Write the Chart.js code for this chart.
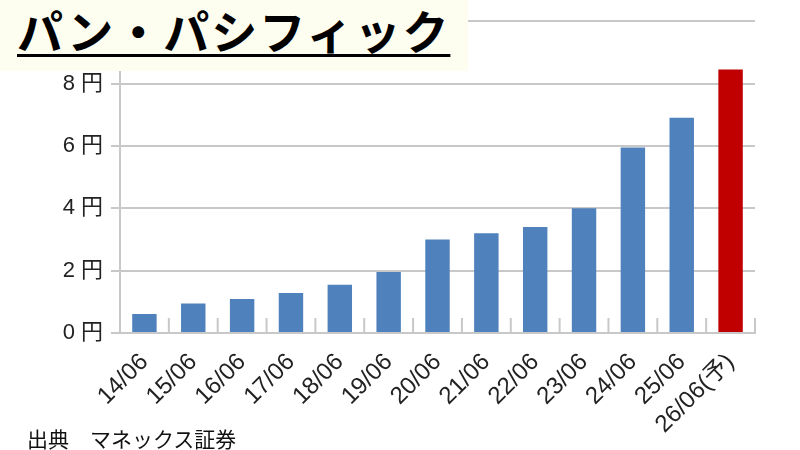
<!DOCTYPE html>
<html lang="ja">
<head>
<meta charset="utf-8">
<script src="https://cdn.jsdelivr.net/npm/chart.js@4"></script>
<style>
  html, body { margin: 0; padding: 0; background: #fff; }
  .wrap { position: relative; width: 800px; height: 450px; font-family: "Noto Sans CJK JP", sans-serif; }
  #chart { position: absolute; left: 0; top: 0; }
  .title-box {
    position: absolute; left: 0; top: 0; width: 468px; height: 71px;
    background: #fdfdf0; z-index: 2;
  }
  .title-box span {
    position: absolute; left: 17px; top: -4px;
    font-size: 46px; font-weight: bold; color: #000;
    text-decoration: underline; text-decoration-thickness: 3px; text-underline-offset: 5px;
    letter-spacing: 2px;
  }
  .source { position: absolute; left: 27px; top: 426px; font-size: 21px; line-height: 1.2; color: #111; z-index: 2; }
</style>
</head>
<body>
<div class="wrap">
  <canvas id="chart" width="800" height="450"></canvas>
  <div class="title-box"><span>パン・パシフィック</span></div>
  <div class="source">出典　マネックス証券</div>
</div>
<script>
const categories = ['14/06', '15/06', '16/06', '17/06', '18/06', '19/06', '20/06',
                    '21/06', '22/06', '23/06', '24/06', '25/06', '26/06(予)'];
const dividends = [0.61, 0.95, 1.09, 1.28, 1.55, 1.96, 3.0, 3.2, 3.4, 4.0, 5.95, 6.9, 8.45];
const yTicks = [0, 2, 4, 6, 8, 10];

const BLUE = '#4f81bd';
const RED = '#c00000';
const GRID = '#c8c8c8';
const FONT = '"Liberation Sans", "Noto Sans CJK JP", sans-serif';

// short upward tick marks between the bars, like the original
const innerTicks = {
  id: 'innerTicks',
  afterDatasetsDraw(chart) {
    const x = chart.scales.x;
    const ctx = chart.ctx;
    const bottom = chart.chartArea.bottom;
    ctx.save();
    ctx.strokeStyle = GRID;
    ctx.lineWidth = 2;
    for (let i = 0; i < categories.length; i++) {
      const px = x.getPixelForValue(i + 0.5);
      ctx.beginPath();
      ctx.moveTo(px, bottom);
      ctx.lineTo(px, bottom - 15);
      ctx.stroke();
    }
    ctx.restore();
  }
};

new Chart(document.getElementById('chart'), {
  type: 'bar',
  data: {
    labels: categories,
    datasets: [{
      data: dividends,
      backgroundColor: c => c.dataIndex === categories.length - 1 ? RED : BLUE,
      borderWidth: 0,
      categoryPercentage: 1,
      barPercentage: 0.5,
    }]
  },
  options: {
    responsive: false,
    animation: false,
    layout: { padding: { left: 0, right: 45, top: 20, bottom: 0 } },
    plugins: { legend: { display: false }, tooltip: { enabled: false } },
    scales: {
      x: {
        offset: true,
        grid: { display: false },
        border: { color: GRID, width: 2 },
        ticks: {
          color: '#222',
          font: { family: FONT, size: 24 },
          minRotation: 45, maxRotation: 45, autoSkip: false, padding: 7,
        },
        afterFit: s => { s.height = 117; }
      },
      y: {
        min: 0, max: 10,
        afterBuildTicks: s => { s.ticks = yTicks.map(v => ({ value: v })); },
        grid: { color: GRID, lineWidth: 2, tickLength: 9 },
        border: { color: GRID, width: 2 },
        ticks: {
          color: '#222',
          padding: 8,
          font: { family: FONT, size: 22 },
          callback: v => v + ' 円'
        },
        afterFit: s => { s.width = 120; }
      }
    }
  },
  plugins: [innerTicks]
});
</script>
</body>
</html>
